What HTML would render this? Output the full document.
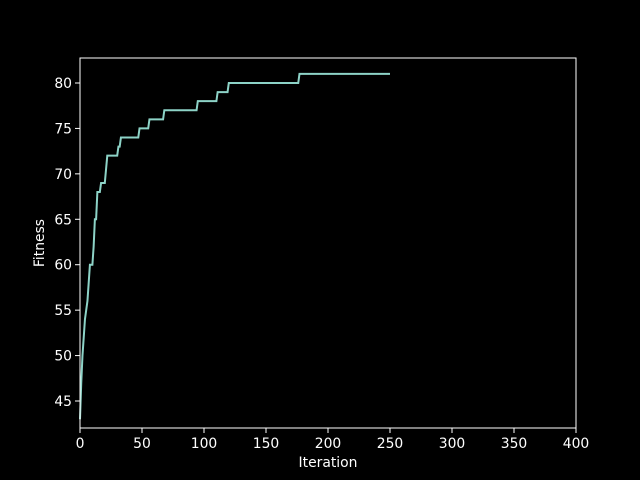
<!DOCTYPE html>
<html><head><meta charset="utf-8"><style>
body{margin:0;background:#000;}
svg{display:block;font-family:"DejaVu Sans","Liberation Sans",sans-serif;}
</style></head><body>
<svg id="chart" width="640" height="480">
<rect width="640" height="480" fill="#000"/>
<g id="plot"></g>
</svg>
<script>
const iterations = [0,1,2,3,4,5,6,7,8,10,11,12,13,14,16,17,20,22,30,31,32,33,47,48,55,56,67,68,94,95,110,111,119,120,176,177,250];
const fitness    = [43,47,50,52,54,55,56,58,60,60,62,65,65,68,68,69,69,72,72,73,73,74,74,75,75,76,76,77,77,78,78,79,79,80,80,81,81];
const xTicks = [0,50,100,150,200,250,300,350,400];
const yTicks = [45,50,55,60,65,70,75,80];
const L=80,R=576,T=58,B=428, xMin=0,xMax=400,yMin=42.03,yMax=82.75;
const xs=v=>L+(v-xMin)/(xMax-xMin)*(R-L);
const ys=v=>B-(v-yMin)/(yMax-yMin)*(B-T);
const NS='http://www.w3.org/2000/svg';
const g=document.getElementById('plot');
function mk(t,a,txt){const e=document.createElementNS(NS,t);for(const k in a)e.setAttribute(k,a[k]);if(txt!==undefined)e.textContent=txt;g.appendChild(e);return e;}
let d=iterations.map((it,i)=>(i?'L':'M')+xs(it).toFixed(2)+' '+ys(fitness[i]).toFixed(2)).join(' ');
let p=mk('path',{d:d,fill:'none',stroke:'#8dd3c7','stroke-width':2});


let f=mk('rect',{x:L,y:T,width:R-L,height:B-T,fill:'none',stroke:'#fff','stroke-width':1});


xTicks.forEach(v=>{
  let x=xs(v);
  let l=mk('line',{x1:x,x2:x,y1:B,y2:B+5,stroke:'#fff','stroke-width':1});
  
  
  let t=mk('text',{x:x,y:B+20,fill:'#fff','font-size':13.9,'text-anchor':'middle'},String(v));
  
  
});
yTicks.forEach(v=>{
  let y=ys(v);
  let l=mk('line',{x1:L-5,x2:L,y1:y,y2:y,stroke:'#fff','stroke-width':1});
  
  
  let t=mk('text',{x:L-8,y:y+5,fill:'#fff','font-size':13.9,'text-anchor':'end'},String(v));
  
  
});
let xt=mk('text',{x:(L+R)/2,y:467,fill:'#fff','font-size':13.9,'text-anchor':'middle'},'Iteration');


let yt=mk('text',{x:44,y:(T+B)/2,fill:'#fff','font-size':13.9,'text-anchor':'middle',transform:'rotate(-90 44 '+(T+B)/2+')'},'Fitness');


</script>
</body></html>
